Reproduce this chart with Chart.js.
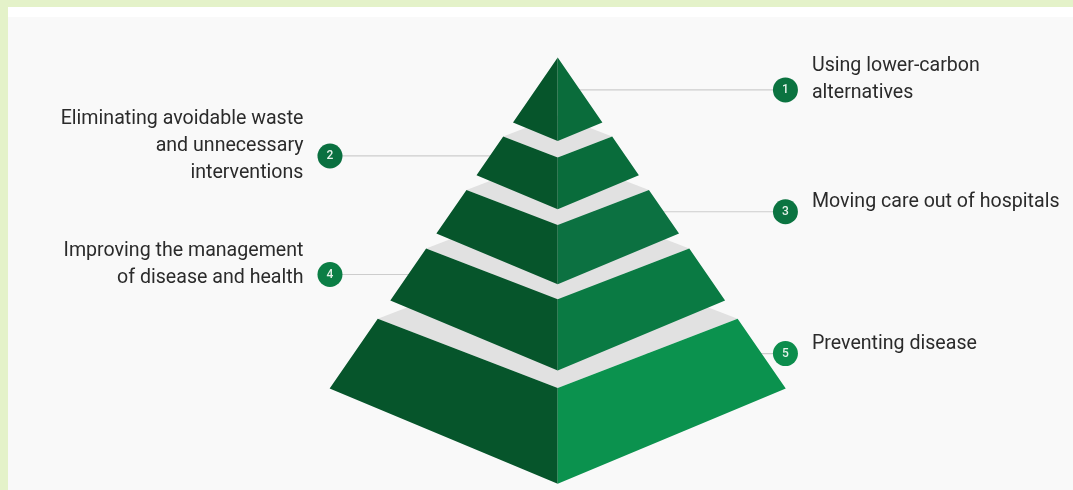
<!DOCTYPE html>
<html>
<head>
<meta charset="utf-8">
<script src="https://cdn.jsdelivr.net/npm/chart.js@4.4.0/dist/chart.umd.min.js"></script>
<style>
  html, body { margin: 0; padding: 0; width: 1073px; height: 490px; overflow: hidden; background: #e4f2c9; }
  #panel { position: absolute; left: 8px; top: 7px; right: 0; bottom: 0; background: #f9f9f9; border-top: 10px solid #ffffff; }
  #wrap { position: absolute; left: 0; top: 0; width: 1073px; height: 490px; }
</style>
</head>
<body>
<div id="panel"></div>
<div id="wrap"><canvas id="pyramid"></canvas></div>
<script>
// tiers, top of pyramid first
const categories = [
    'Using lower-carbon alternatives',
    'Eliminating avoidable waste and unnecessary interventions',
    'Moving care out of hospitals',
    'Improving the management of disease and health',
    'Preventing disease'
];
const labelLines = [
    ['Using lower-carbon', 'alternatives'],
    ['Eliminating avoidable waste', 'and unnecessary', 'interventions'],
    ['Moving care out of hospitals'],
    ['Improving the management', 'of disease and health'],
    ['Preventing disease']
];
const markerNumbers = ['1', '2', '3', '4', '5'];
const labelSide = [1, -1, 1, -1, 1]; // 1 = right, -1 = left
// tier levels, % of pyramid height measured from the apex
const tierTop = [0, 23.9, 40.0, 57.7, 78.9];
const tierBottom = [19.6, 35.6, 53.2, 73.4, 100];

const leftColor = '#06552b';
const rightColors = ['#0a6c3b', '#096c3b', '#0c7141', '#0a7a43', '#0b924e'];
const markerColors = ['#0b7340', '#0a7040', '#0b7441', '#0b7e45', '#0c8d4c'];
const topColor = '#e1e1e1';

const SLOPE = 0.689;       // half width per unit of depth
const DEPTH_TOP = 0.385;   // front corner drop of a tier's top edge, relative to half width
const DEPTH_BOTTOM = 0.418;
const MARKER_X = 68.8;

function hw(level) { return SLOPE * level; }

function face(points, color) {
    return {
        data: points,
        backgroundColor: color,
        borderWidth: 0,
        pointRadius: 0,
        pointHitRadius: 0,
        fill: 'shape'
    };
}

const paint = [];

// leader lines (drawn first, pyramid covers the inner end)
categories.forEach(function (c, i) {
    const mid = (tierTop[i] + tierBottom[i]) / 2;
    paint.push({
        data: [{ x: labelSide[i] * MARKER_X, y: mid }, { x: 0, y: mid }],
        borderColor: '#cdcdcd',
        borderWidth: 1.2,
        pointRadius: 0,
        pointHitRadius: 0,
        fill: false
    });
});

// tiers from the base up
for (let i = categories.length - 1; i >= 0; i--) {
    const t = tierTop[i], b = tierBottom[i];
    const wt = hw(t), wb = hw(b);
    if (t > 0) {
        paint.push(face([
            { x: -wt, y: t }, { x: 0, y: t - DEPTH_TOP * wt },
            { x: wt, y: t }, { x: 0, y: t + DEPTH_TOP * wt }
        ], topColor));
    }
    paint.push(face([
        { x: -wt, y: t }, { x: 0, y: t + DEPTH_TOP * wt },
        { x: 0, y: b + DEPTH_BOTTOM * wb }, { x: -wb, y: b }
    ], leftColor));
    paint.push(face([
        { x: wt, y: t }, { x: 0, y: t + DEPTH_TOP * wt },
        { x: 0, y: b + DEPTH_BOTTOM * wb }, { x: wb, y: b }
    ], rightColors[i]));
}

// numbered markers
paint.push({
    data: categories.map(function (c, i) {
        return { x: labelSide[i] * MARKER_X, y: (tierTop[i] + tierBottom[i]) / 2 };
    }),
    showLine: false,
    pointRadius: 12.5,
    pointHoverRadius: 12.5,
    pointBackgroundColor: markerColors,
    pointBorderWidth: 0,
    fill: false
});

const labelPlugin = {
    id: 'tierLabels',
    afterDatasetsDraw: function (chart) {
        const ctx = chart.ctx;
        const xs = chart.scales.x, ys = chart.scales.y;
        ctx.save();
        categories.forEach(function (c, i) {
            const px = xs.getPixelForValue(labelSide[i] * MARKER_X);
            const py = ys.getPixelForValue((tierTop[i] + tierBottom[i]) / 2);

            ctx.fillStyle = '#e6f2ea';
            ctx.font = '500 12px Roboto';
            ctx.textAlign = 'center';
            ctx.textBaseline = 'middle';
            ctx.fillText(markerNumbers[i], px, py + 0.5);

            const lines = labelLines[i];
            ctx.fillStyle = '#2b2b2b';
            ctx.font = '19.6px Roboto';
            ctx.textBaseline = 'alphabetic';
            ctx.textAlign = labelSide[i] > 0 ? 'left' : 'right';
            const tx = px + labelSide[i] * 26.5;
            lines.forEach(function (line, j) {
                ctx.fillText(line, tx, py - 5 + (j - (lines.length - 1) / 2) * 27);
            });
        });
        ctx.restore();
    }
};

// 1 unit = 3.31 px, apex at (557.7, 57.5)
new Chart(document.getElementById('pyramid'), {
    type: 'line',
    data: { datasets: paint.reverse() },
    options: {
        responsive: true,
        maintainAspectRatio: false,
        animation: false,
        events: [],
        layout: { padding: 0, autoPadding: false },
        plugins: {
            legend: { display: false },
            tooltip: { enabled: false }
        },
        scales: {
            x: { type: 'linear', display: false, min: -168.49, max: 155.68 },
            y: { type: 'linear', display: false, reverse: true, min: -17.37, max: 130.66 }
        }
    },
    plugins: [labelPlugin]
});
</script>
</body>
</html>
